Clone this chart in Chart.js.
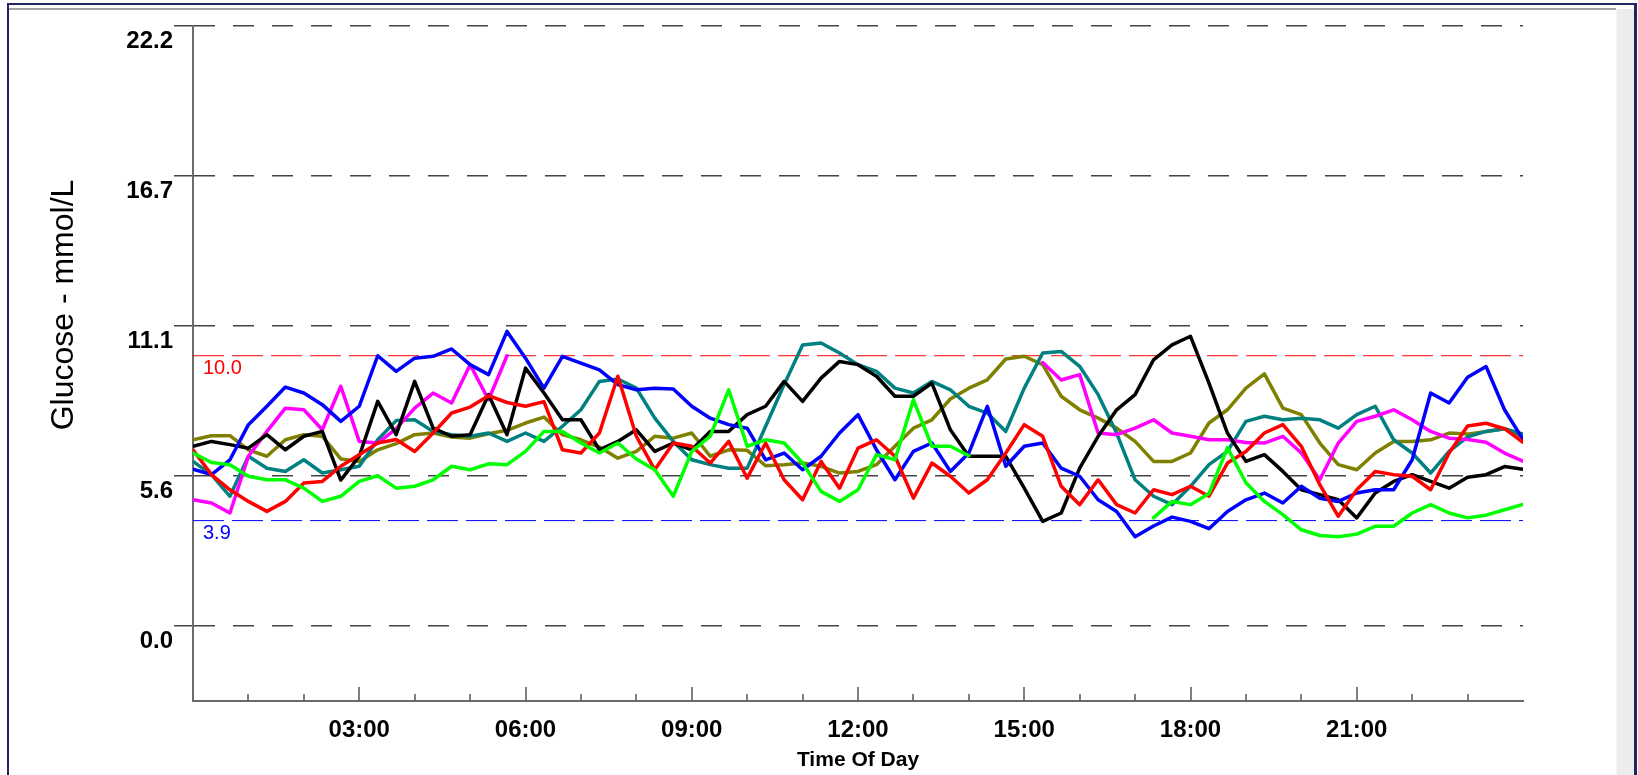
<!DOCTYPE html>
<html>
<head>
<meta charset="utf-8">
<title>Glucose by Time Of Day</title>
<script src="https://cdn.jsdelivr.net/npm/chart.js@4.4.1/dist/chart.umd.min.js"></script>
<style>
  html, body { margin: 0; padding: 0; background: #fff; }
  #wrap { position: relative; width: 1638px; height: 775px; overflow: hidden; background: #fff; }
  .fr { position: absolute; }
  #navyTop   { left: 8px;    top: 3px;  width: 1629px; height: 2px;  background: #25255f; }
  #navyLeft  { left: 7px;    top: 3px;  width: 2px;    height: 772px; background: #25255f; }
  #navyRight { left: 1634px; top: 3px;  width: 3px;    height: 772px; background: #25255f; }
  #grayTop   { left: 9px;    top: 8px;  width: 1607px; height: 2px;  background: #a3a3a0; }
  #panel     { left: 1616px; top: 9px;  width: 17px;   height: 766px; background: #ececec; border-left: 1px solid #f7f7f2; }
  #chart { position: absolute; left: 0; top: 0; }
</style>
</head>
<body>
<div id="wrap">
  <div class="fr" id="navyTop"></div>
  <div class="fr" id="navyLeft"></div>
  <div class="fr" id="navyRight"></div>
  <div class="fr" id="grayTop"></div>
  <div class="fr" id="panel"></div>
  <canvas id="chart" width="1638" height="775"></canvas>
</div>
<script>
// readings every 20 minutes, 00:00 .. 24:00 (73 points per day), mmol/L
var STEP_HOURS = 1 / 3;

var dayBlue = [5.8, 5.6, 6.15, 7.45, 8.13, 8.84, 8.62, 8.19, 7.57, 8.13, 10.0, 9.42,
  9.91, 9.98, 10.25, 9.67, 9.3, 10.9, 9.91, 8.8, 9.98, 9.73, 9.48,
  8.93, 8.74, 8.8, 8.77, 8.13, 7.69, 7.45, 7.32, 6.15, 6.4, 5.78,
  6.28, 7.14, 7.82, 6.52, 5.41, 6.46, 6.77, 5.72, 6.4, 8.13, 5.91, 6.65,
  6.77, 5.84, 5.54, 4.67, 4.24, 3.3, 3.7, 4.03, 3.87, 3.6, 4.24,
  4.67, 4.92, 4.55, 5.17, 4.73, 4.61, 4.92, 5.04, 5.04, 6.15, 8.62, 8.25,
  9.2, 9.6, 8.0, 6.9];

var dayBlack = [6.65, 6.83, 6.71, 6.58, 7.08, 6.52, 7.02, 7.2, 5.4, 6.28, 8.31, 7.08,
  9.05, 7.32, 7.02, 7.08, 8.56, 7.08, 9.54, 8.62, 7.63, 7.63, 6.52,
  6.83, 7.26, 6.46, 6.77, 6.52, 7.2, 7.2, 7.82, 8.13, 9.05, 8.31,
  9.17, 9.79, 9.67, 9.24, 8.5, 8.5, 8.99, 7.26, 6.28, 6.28, 6.28, 5.1,
  3.87, 4.18, 5.84, 7.02, 8.0, 8.56, 9.85, 10.4, 10.72, 8.99, 7.14,
  6.09, 6.34, 5.72, 5.04, 4.86, 4.67, 4.0, 4.92, 5.35, 5.6, 5.35, 5.1,
  5.5, 5.6, 5.9, 5.8];

var dayTeal = [6.09, 5.6, 4.8, 6.28, 5.84, 5.72, 6.15, 5.66, 5.78, 5.91, 6.89, 7.6,
  7.63, 7.2, 7.08, 7.02, 7.14, 6.83, 7.14, 6.83, 7.39, 8.0, 9.05,
  9.14, 8.8, 7.69, 6.83, 6.15, 5.97, 5.84, 5.84, 7.39, 8.93, 10.4,
  10.47, 10.1, 9.67, 9.42, 8.8, 8.62, 9.05, 8.74, 8.13, 7.88, 7.2, 8.8,
  10.1, 10.16, 9.61, 8.56, 7.14, 5.41, 4.8, 4.49, 5.17, 5.97, 6.46,
  7.57, 7.76, 7.63, 7.69, 7.63, 7.32, 7.82, 8.13, 6.89, 6.4, 5.66, 6.46,
  7.0, 7.2, 7.3, 7.1];

var dayMagenta = [4.67, 4.55, 4.18, 6.28, 7.2, 8.06, 8.0, 7.26, 8.87, 6.83, 6.77, 7.3,
  8.06, 8.62, 8.25, 9.67, 8.37, 10.0, null, null, null, null, null,
  null, null, null, null, null, null, null, null, null, null, null,
  null, null, null, null, null, null, null, null, null, null, null, null,
  9.75, 9.1, 9.3, 7.14, 7.08, 7.32, 7.63, 7.14, 7.02, 6.89, 6.89,
  6.79, 6.77, 7.02, 6.4, 5.41, 6.77, 7.57, 7.76, 8.0, 7.63, 7.2, 6.95,
  6.9, 6.8, 6.4, 6.1];

var dayRed = [6.52, 5.6, 5.04, 4.61, 4.24, 4.61, 5.29, 5.35, 5.91, 6.34, 6.77, 6.9,
  6.46, 7.14, 7.88, 8.1, 8.52, 8.27, 8.13, 8.3, 6.52, 6.4, 7.14,
  9.24, 7.02, 5.78, 6.77, 6.65, 6.03, 6.83, 5.47, 6.77, 5.41, 4.67,
  6.09, 5.1, 6.58, 6.89, 6.28, 4.73, 6.03, 5.54, 4.92, 5.41, 6.4, 7.45,
  7.02, 5.17, 4.49, 5.41, 4.49, 4.18, 5.04, 4.86, 5.17, 4.8, 6.03,
  6.46, 7.14, 7.45, 6.65, 5.23, 4.06, 5.04, 5.72, 5.6, 5.54, 5.04, 6.4,
  7.4, 7.5, 7.3, 6.8];

var dayGreen = [6.4, 6.05, 5.97, 5.54, 5.41, 5.41, 5.1, 4.61, 4.8, 5.35, 5.56, 5.1,
  5.17, 5.41, 5.91, 5.78, 6.0, 5.97, 6.46, 7.2, 7.2, 6.77, 6.4,
  6.77, 6.18, 5.78, 4.8, 6.46, 7.02, 8.74, 6.65, 6.89, 6.77, 6.03,
  4.98, 4.61, 5.04, 6.34, 6.15, 8.37, 6.65, 6.65, 6.3, null, null, null,
  null, null, null, null, null, null, 4.0, 4.61, 4.49, 4.9, 6.6,
  5.3, 4.61, 4.12, 3.56, 3.35, 3.3, 3.4, 3.69, 3.69, 4.18, 4.49, 4.18,
  4.0, 4.1, 4.3, 4.5];

var dayOlive = [6.89, 7.04, 7.04, 6.52, 6.28, 6.89, 7.08, 7.02, 6.18, 6.09, 6.52, 6.75,
  7.08, 7.14, 6.99, 6.95, 7.11, 7.24, 7.51, 7.73, 7.08, 6.89, 6.62,
  6.21, 6.46, 7.02, 6.95, 7.14, 6.28, 6.52, 6.5, 5.93, 5.97, 6.03,
  5.91, 5.66, 5.72, 5.97, 6.65, 7.32, 7.63, 8.4, 8.8, 9.11, 9.88, 9.98,
  9.67, 8.5, 8.0, 7.69, 7.32, 6.83, 6.09, 6.09, 6.4, 7.51, 8.0,
  8.8, 9.33, 8.06, 7.82, 6.77, 5.97, 5.78, 6.4, 6.83, 6.83, 6.89, 7.14,
  7.1, 7.2, 7.3, 7.0];

// axes
var yTickValues = [0, 5.55, 11.1, 16.65, 22.2];
var yTickLabels = ['0.0', '5.6', '11.1', '16.7', '22.2'];
var xTickHours = [3, 6, 9, 12, 15, 18, 21];
var xTickLabels = ['03:00', '06:00', '09:00', '12:00', '15:00', '18:00', '21:00'];
var hourMarks = [1, 2, 3, 4, 5, 6, 7, 8, 9, 10, 11, 12, 13, 14, 15, 16, 17, 18, 19, 20, 21, 22, 23];
var targetHigh = 10.0;
var targetLow = 3.9;

var FONT = '"Liberation Sans", Arial, sans-serif';

function points(values) {
  return values.map(function (v, i) { return { x: i * STEP_HOURS, y: v }; });
}

function dayLine(values, color) {
  return { data: points(values), borderColor: color, borderWidth: 3.5, pointRadius: 0, tension: 0,
    borderJoinStyle: 'round', borderCapStyle: 'round', spanGaps: false };
}

function targetLine(value, color) {
  return { data: [{ x: 0, y: value }, { x: 24, y: value }], borderColor: color, borderWidth: 1,
    borderDash: [31, 8], pointRadius: 0 };
}

// labels, y title and the little hour marks on the time axis
var extras = {
  id: 'extras',
  beforeDatasetsDraw: function (chart) {
    var ctx = chart.ctx, area = chart.chartArea, y = chart.scales.y;
    ctx.save();
    ctx.font = '20px ' + FONT;
    ctx.textBaseline = 'middle';
    ctx.textAlign = 'left';
    ctx.fillStyle = '#ff0000';
    ctx.fillText('10.0', area.left + 10, y.getPixelForValue(targetHigh) + 13);
    ctx.fillStyle = '#0000ff';
    ctx.fillText('3.9', area.left + 10, y.getPixelForValue(targetLow) + 13);
    ctx.restore();
  },
  afterDraw: function (chart) {
    var ctx = chart.ctx, area = chart.chartArea, x = chart.scales.x;
    ctx.save();
    ctx.strokeStyle = '#555';
    ctx.lineWidth = 1.5;
    hourMarks.forEach(function (h) {
      var px = Math.round(x.getPixelForValue(h));
      var len = h % 3 === 0 ? 14 : 7;
      ctx.beginPath();
      ctx.moveTo(px, area.bottom);
      ctx.lineTo(px, area.bottom - len);
      ctx.stroke();
    });
    ctx.translate(64, 305);
    ctx.rotate(-Math.PI / 2);
    ctx.font = '32px ' + FONT;
    ctx.fillStyle = '#000';
    ctx.textAlign = 'center';
    ctx.textBaseline = 'middle';
    ctx.fillText('Glucose - mmol/L', 0, 0);
    ctx.restore();
  }
};

new Chart(document.getElementById('chart'), {
  type: 'line',
  data: {
    datasets: [
      dayLine(dayGreen, '#00ff00'),
      dayLine(dayRed, '#ff0000'),
      dayLine(dayBlue, '#0000ff'),
      dayLine(dayBlack, '#000000'),
      dayLine(dayMagenta, '#ff00ff'),
      dayLine(dayTeal, '#008080'),
      dayLine(dayOlive, '#808000'),
      targetLine(targetHigh, '#ff0000'),
      targetLine(targetLow, '#0000ff')
    ]
  },
  options: {
    responsive: false,
    animation: false,
    devicePixelRatio: 1,
    layout: { padding: { top: 26, right: 115, bottom: 0, left: 0 } },
    plugins: { legend: { display: false }, tooltip: { enabled: false } },
    scales: {
      x: {
        type: 'linear', min: 0, max: 24, bounds: 'data',
        afterBuildTicks: function (s) { s.ticks = xTickHours.map(function (v) { return { value: v }; }); },
        afterFit: function (s) { s.height = 74; },
        grid: { display: false, drawTicks: false },
        border: { display: true, color: '#6b6b6b', width: 2 },
        ticks: { padding: 15, color: '#000', autoSkip: false, maxRotation: 0,
          font: { family: FONT, size: 24, weight: 'bold' },
          callback: function (v, i) { return xTickLabels[i]; } },
        title: { display: true, text: 'Time Of Day', color: '#000',
          font: { family: FONT, size: 21, weight: 'bold' }, padding: { top: 0, bottom: 2 } }
      },
      y: {
        type: 'linear', min: -2.775, max: 22.2, bounds: 'data',
        afterBuildTicks: function (s) { s.ticks = yTickValues.map(function (v) { return { value: v }; }); },
        afterFit: function (s) { s.width = 193; },
        grid: { color: '#444', lineWidth: 1.5, tickLength: 19, drawTicks: true },
        border: { display: true, color: '#6b6b6b', width: 2, dash: [21, 18] },
        ticks: { padding: 1, labelOffset: 15, color: '#000', autoSkip: false,
          font: { family: FONT, size: 24, weight: 'bold' },
          callback: function (v, i) { return yTickLabels[i]; } }
      }
    }
  },
  plugins: [extras]
});
</script>
</body>
</html>
